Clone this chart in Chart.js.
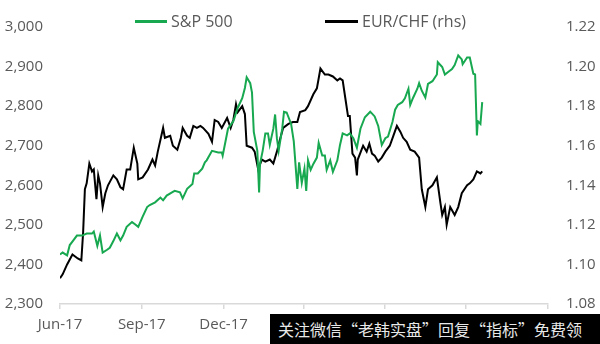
<!DOCTYPE html>
<html>
<head>
<meta charset="utf-8">
<script src="https://cdn.jsdelivr.net/npm/chart.js@4.4.1/dist/chart.umd.min.js"></script>
<style>
  body { margin: 0; background: #fff; }
  #wrap { position: relative; width: 600px; height: 344px; font-family: "Open Sans", sans-serif; }
  #chart { position: absolute; left: 0; top: 0; }
  .legend-line { position: absolute; height: 3px; }
  .legend-text { position: absolute; font-size: 16px; color: #595959; line-height: 20px; white-space: nowrap; }
  #watermark {
    position: absolute; left: 270px; top: 314px; width: 330px; height: 30px;
    background: #000; color: #e8e8e8; font-family: "Noto Sans CJK SC", sans-serif;
    font-size: 16px; line-height: 30px; padding-left: 8px; box-sizing: border-box; white-space: nowrap;
  }
</style>
</head>
<body>
<div id="wrap">
  <canvas id="chart" width="600" height="344"></canvas>
  <div id="legend"></div>
  <div id="watermark">关注微信“老韩实盘”回复“指标”免费领</div>
</div>
<script>
// dates are days after baseDate (30 Jun 2017)
var baseDate = "2017-06-30";
var tickDates = ["2017-06-30", "2017-09-30", "2017-12-31", "2018-03-31", "2018-06-30", "2018-09-30", "2018-12-31"];
var tickLabels = ["Jun-17", "Sep-17", "Dec-17", "Mar-18", "Jun-18", "Sep-18", "Dec-18"];
var leftTicks = [2300, 2400, 2500, 2600, 2700, 2800, 2900, 3000];
var rightTicks = [1.08, 1.10, 1.12, 1.14, 1.16, 1.18, 1.20, 1.22];

// S&P 500 (lhs)
var spxDays = [0, 3, 8, 11, 15, 19, 25, 30, 36, 38, 42, 45, 48, 53, 56, 60, 64, 68, 71, 75, 81, 84, 88, 93, 98, 101, 107, 113, 116, 120, 126, 129, 135, 138, 143, 149, 151, 155, 160, 163, 165, 171, 178, 182, 183, 189, 195, 200, 205, 208, 210, 214, 216, 218, 222, 224, 225, 228, 231, 234, 236, 240, 242, 244, 246, 250, 252, 255, 260, 263, 267, 269, 272, 275, 277, 279, 282, 285, 289, 291, 295, 298, 300, 304, 307, 312, 315, 318, 323, 326, 330, 334, 338, 343, 349, 354, 358, 362, 366, 369, 374, 377, 380, 385, 388, 392, 394, 397, 402, 404, 407, 411, 414, 419, 424, 425, 430, 433, 437, 441, 444, 448, 452, 453, 458, 461, 465, 467, 469, 470, 473, 475];
var spxValues = [2425, 2430, 2423, 2449, 2461, 2473, 2473, 2478, 2478, 2483, 2447, 2473, 2430, 2437, 2442, 2459, 2478, 2461, 2473, 2495, 2507, 2502, 2495, 2521, 2545, 2550, 2557, 2569, 2562, 2574, 2582, 2586, 2582, 2567, 2591, 2603, 2630, 2630, 2642, 2658, 2663, 2687, 2683, 2683, 2675, 2743, 2762, 2796, 2820, 2846, 2873, 2858, 2834, 2735, 2687, 2582, 2654, 2687, 2731, 2731, 2702, 2743, 2779, 2719, 2687, 2743, 2786, 2784, 2755, 2711, 2591, 2658, 2606, 2642, 2586, 2663, 2639, 2654, 2670, 2707, 2675, 2675, 2639, 2663, 2634, 2663, 2702, 2731, 2726, 2731, 2719, 2695, 2743, 2772, 2786, 2774, 2750, 2702, 2719, 2723, 2760, 2791, 2803, 2810, 2820, 2844, 2803, 2820, 2844, 2858, 2839, 2822, 2856, 2863, 2880, 2911, 2899, 2880, 2887, 2894, 2904, 2928, 2918, 2906, 2923, 2923, 2882, 2880, 2726, 2762, 2755, 2810];

// EUR/CHF (rhs)
var eurDays = [0, 3, 8, 14, 17, 20, 24, 26, 28, 30, 33, 36, 38, 41, 43, 45, 48, 51, 54, 60, 64, 68, 71, 75, 79, 83, 87, 88, 93, 99, 104, 107, 110, 116, 118, 124, 127, 132, 136, 138, 143, 146, 150, 154, 158, 161, 167, 171, 174, 178, 182, 188, 192, 195, 198, 200, 205, 208, 210, 216, 219, 223, 227, 231, 236, 240, 244, 248, 251, 257, 262, 267, 270, 276, 279, 285, 289, 293, 298, 302, 307, 312, 315, 318, 321, 324, 326, 329, 332, 334, 335, 341, 345, 348, 351, 354, 358, 362, 366, 371, 375, 379, 383, 386, 390, 394, 399, 404, 407, 411, 414, 419, 424, 428, 430, 433, 435, 439, 444, 448, 452, 458, 461, 465, 469, 473, 475];
var eurValues = [1.093, 1.095, 1.100, 1.105, 1.104, 1.103, 1.102, 1.116, 1.138, 1.141, 1.151, 1.147, 1.148, 1.133, 1.145, 1.141, 1.129, 1.136, 1.140, 1.145, 1.143, 1.139, 1.138, 1.148, 1.148, 1.159, 1.151, 1.143, 1.144, 1.148, 1.153, 1.150, 1.157, 1.169, 1.164, 1.165, 1.160, 1.158, 1.164, 1.169, 1.165, 1.164, 1.170, 1.169, 1.170, 1.169, 1.166, 1.162, 1.173, 1.172, 1.169, 1.174, 1.169, 1.173, 1.181, 1.177, 1.180, 1.176, 1.160, 1.159, 1.157, 1.148, 1.153, 1.152, 1.153, 1.151, 1.157, 1.164, 1.169, 1.171, 1.172, 1.172, 1.177, 1.178, 1.180, 1.186, 1.189, 1.199, 1.196, 1.196, 1.195, 1.193, 1.194, 1.193, 1.184, 1.175, 1.175, 1.156, 1.154, 1.145, 1.153, 1.160, 1.157, 1.161, 1.156, 1.155, 1.152, 1.154, 1.157, 1.160, 1.165, 1.170, 1.167, 1.164, 1.162, 1.158, 1.157, 1.154, 1.138, 1.129, 1.138, 1.140, 1.144, 1.131, 1.125, 1.129, 1.120, 1.129, 1.125, 1.129, 1.136, 1.140, 1.141, 1.143, 1.147, 1.146, 1.147];

var green = "#17a850";
var textColor = "#595959";
var axisColor = "#d9d9d9";

function daysFromBase(d) {
  return Math.round((Date.parse(d) - Date.parse(baseDate)) / 86400000);
}
var tickDays = tickDates.map(daysFromBase);

function toPoints(days, values) {
  return days.map(function (d, i) {
    return { x: d, y: values[i] };
  });
}

var series = [
  { label: "S&P 500", color: green, data: toPoints(spxDays, spxValues), axis: "y", line: [135, 32], text: 171 },
  { label: "EUR/CHF (rhs)", color: "#000000", data: toPoints(eurDays, eurValues), axis: "y1", line: [325, 33], text: 362 },
];

// html legend above the chart
var legend = document.getElementById("legend");
series.forEach(function (s) {
  var line = document.createElement("div");
  line.className = "legend-line";
  line.style.left = s.line[0] + "px";
  line.style.width = s.line[1] + "px";
  line.style.top = "20px";
  line.style.background = s.color;
  legend.appendChild(line);
  var txt = document.createElement("div");
  txt.className = "legend-text";
  txt.style.left = s.text + "px";
  txt.style.top = "11px";
  txt.textContent = s.label;
  legend.appendChild(txt);
});

var tickFont = { family: "'Open Sans', sans-serif", size: 15 };

new Chart(document.getElementById("chart"), {
  type: "line",
  data: {
    datasets: series.map(function (s) {
      return {
        label: s.label,
        data: s.data,
        yAxisID: s.axis,
        borderColor: s.color,
        borderWidth: 2,
        pointRadius: 0,
        tension: 0,
        fill: false,
      };
    }),
  },
  options: {
    responsive: false,
    animation: false,
    layout: { padding: { top: 13, left: 0, right: 0, bottom: 0 } },
    plugins: { legend: { display: false }, tooltip: { enabled: false } },
    scales: {
      x: {
        type: "linear",
        min: tickDays[0],
        max: tickDays[tickDays.length - 1],
        afterBuildTicks: function (scale) {
          scale.ticks = tickDays.map(function (v) { return { value: v }; });
        },
        afterFit: function (scale) { scale.height = 40; },
        grid: { drawOnChartArea: false, color: axisColor, tickLength: 5, lineWidth: 1.5 },
        border: { color: axisColor, width: 1.5 },
        ticks: {
          font: tickFont,
          color: textColor,
          padding: 7,
          maxRotation: 0,
          autoSkip: false,
          callback: function (v) {
            var i = tickDays.indexOf(v);
            return i >= 0 ? tickLabels[i] : "";
          },
        },
      },
      y: {
        position: "left",
        min: leftTicks[0],
        max: leftTicks[leftTicks.length - 1],
        afterBuildTicks: function (scale) {
          scale.ticks = leftTicks.map(function (v) { return { value: v }; });
        },
        afterFit: function (scale) { scale.width = 60; },
        grid: { display: false, drawTicks: false },
        border: { display: false },
        ticks: {
          font: tickFont,
          color: textColor,
          padding: 17,
          callback: function (v) { return v.toLocaleString("en-US"); },
        },
      },
      y1: {
        position: "right",
        min: rightTicks[0],
        max: rightTicks[rightTicks.length - 1],
        afterBuildTicks: function (scale) {
          scale.ticks = rightTicks.map(function (v) { return { value: v }; });
        },
        afterFit: function (scale) { scale.width = 52; },
        grid: { display: false, drawTicks: false },
        border: { display: false },
        ticks: {
          font: tickFont,
          color: textColor,
          padding: 18,
          callback: function (v) { return v.toFixed(2); },
        },
      },
    },
  },
});
</script>
</body>
</html>
